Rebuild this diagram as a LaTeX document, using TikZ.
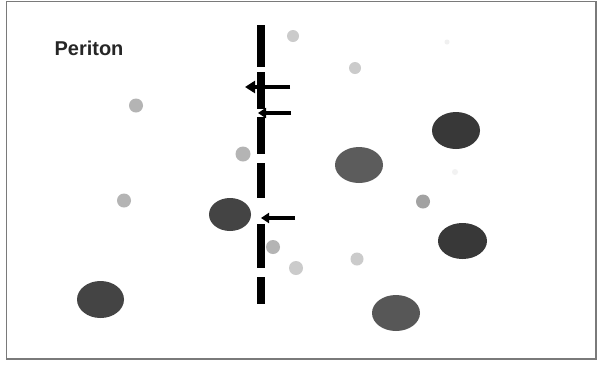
\documentclass[tikz,border=0pt]{standalone}
\usepackage{fontspec}
\setmainfont{Liberation Sans}
\usetikzlibrary{arrows.meta,shapes.geometric}
\definecolor{frame}{HTML}{7A7A7A}
\definecolor{cellA}{HTML}{383838}
\definecolor{cellB}{HTML}{5C5C5C}
\definecolor{cellC}{HTML}{444444}
\definecolor{dotA}{HTML}{B4B4B4}
\definecolor{dotB}{HTML}{CBCBCB}
\definecolor{dotC}{HTML}{A2A2A2}
\tikzset{
  x=1pt, y=-1pt,
  cell/.style={ellipse, inner sep=0pt, minimum width=48pt, minimum height=36pt, fill=cellA, draw=none},
  dot/.style={circle, inner sep=0pt, minimum size=14pt, fill=dotA, draw=none},
  seg/.style={rectangle, inner sep=0pt, minimum width=8.5pt, fill=black, draw=none, anchor=north},
  flow/.style={line width=3.6pt, draw=black, -{Triangle[length=8pt,width=10pt]}},
}
\begin{document}
\begin{tikzpicture}
\useasboundingbox (0,0) rectangle (597,365);
\fill[white] (0,0) rectangle (597,365);
\draw[frame, line width=1.2pt] (6.5,1.5) rectangle (596,359);
\node[font=\bfseries, text=black!85] (title) at (89,48) {\fontsize{20}{24}\selectfont Periton};
% membrane segments
\node[seg, minimum height=42pt] (s1) at (261,25) {};
\node[seg, minimum height=37pt] (s2) at (261,72) {};
\node[seg, minimum height=36.5pt] (s3) at (261,117) {};
\node[seg, minimum height=35pt] (s4) at (261,163) {};
\node[seg, minimum height=44pt] (s5) at (261,224) {};
\node[seg, minimum height=27pt] (s6) at (261,277) {};
% arrows
\coordinate (a1s) at (290,87);
\coordinate (a1e) at (245,87);
\coordinate (a2s) at (291,113);
\coordinate (a2e) at (258,113);
\coordinate (a3s) at (295,218);
\coordinate (a3e) at (261,218);
\draw[flow, -{Triangle[length=10pt,width=12pt]}] (a1s) -- (a1e);
\draw[flow] (a2s) -- (a2e);
\draw[flow] (a3s) -- (a3e);
% large cells
\node[cell, minimum width=42pt, minimum height=33pt, fill=cellC] (c1) at (230,214.5) {};
\node[cell, minimum width=47pt, minimum height=37pt, fill=cellC] (c2) at (100.5,299.5) {};
\node[cell, fill=cellB] (c3) at (359,165) {};
\node[cell, minimum height=37pt] (c4) at (456,130.5) {};
\node[cell, minimum width=49pt] (c5) at (462.5,241) {};
\node[cell, fill=cellC!90!white] (c6) at (396,313) {};
% small particles
\node[dot, fill=dotB, minimum size=12pt] (d1) at (293,36) {};
\node[dot] (d2) at (136,105.5) {};
\node[dot, minimum size=15pt] (d3) at (243,154) {};
\node[dot, fill=dotB, minimum size=12pt] (d4) at (355,68) {};
\node[dot, fill=black!6, minimum size=5pt] (d5) at (447,42) {};
\node[dot] (d6) at (124,200.5) {};
\node[dot] (d7) at (273,247) {};
\node[dot, fill=dotB] (d8) at (296,268) {};
\node[dot, fill=dotC] (d9) at (423,201.5) {};
\node[dot, fill=dotB, minimum size=13pt] (d10) at (357,259) {};
\node[dot, fill=black!5, minimum size=6pt] (d11) at (455,172) {};
\end{tikzpicture}
\end{document}
